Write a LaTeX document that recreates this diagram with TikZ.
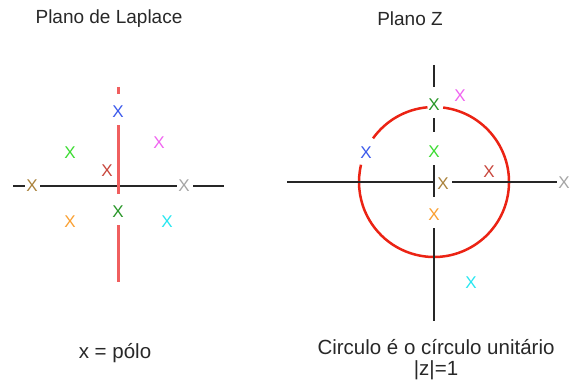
\documentclass[tikz,border=0pt]{standalone}
\usepackage{fontspec}
\setmainfont{Liberation Sans}
\usetikzlibrary{calc}
\definecolor{txt}{RGB}{40,40,40}
\definecolor{cblue}{RGB}{60,90,235}
\definecolor{cgreen}{RGB}{60,220,50}
\definecolor{cmag}{RGB}{240,100,240}
\definecolor{cred}{RGB}{200,70,60}
\definecolor{cbrown}{RGB}{170,130,60}
\definecolor{cgray}{RGB}{165,165,165}
\definecolor{corange}{RGB}{250,160,50}
\definecolor{cdgreen}{RGB}{40,150,40}
\definecolor{ccyan}{RGB}{40,230,240}
\definecolor{lred}{RGB}{240,95,95}
\definecolor{circred}{RGB}{235,35,20}
\tikzset{
  pole/.style={inner sep=0pt, font=\fontsize{17}{17}\selectfont},
  axis/.style={line width=2pt, black!85},
  raxis/.style={line width=2.3pt, lred},
  circ/.style={line width=2.5pt, circred},
  title/.style={txt, font=\fontsize{19}{23}\selectfont},
  note/.style={txt, font=\fontsize{20.5}{23}\selectfont, align=center},
}
\begin{document}
\begin{tikzpicture}[x=1pt,y=-1pt]
\useasboundingbox (0,0) rectangle (572,385);
% titles
\node[title] (t1) at (109,19) {Plano de Laplace};
\node[title] (t2) at (410,19) {Plano Z};
\node[note] (n1) at (115,353) {x = pólo};
\node[note, inner sep=0pt] (n2) at (436,360) {Circulo é o círculo unitário\\[-2pt]|z|=1};

% ---------- Laplace plane ----------
\coordinate (lh1) at (13,186);
\coordinate (lh2) at (25,186);
\coordinate (lh3) at (40,186);
\coordinate (lh4) at (177,186);
\coordinate (lh5) at (193,186);
\coordinate (lh6) at (224,186);
\draw[axis] (lh1) -- (lh2);
\draw[axis] (lh3) -- (lh4);
\draw[axis] (lh5) -- (lh6);
\coordinate (lv1) at (118.5,87);
\coordinate (lv2) at (118.5,94);
\coordinate (lv3) at (118.5,125);
\coordinate (lv4) at (118.5,194);
\coordinate (lv5) at (118.5,225);
\coordinate (lv6) at (118.5,282);
\draw[raxis] (lv1) -- (lv2);
\draw[raxis] (lv3) -- (lv4);
\draw[raxis] (lv5) -- (lv6);

\node[pole, cblue]   (lb)  at (118,112) {X};
\node[pole, cgreen]  (lg)  at (70,153) {X};
\node[pole, cmag]    (lm)  at (159,143) {X};
\node[pole, cred]    (lr)  at (107,171) {X};
\node[pole, cbrown]  (lbr) at (32,186) {X};
\node[pole, cgray]   (lgr) at (184,186) {X};
\node[pole, corange] (lo)  at (70,222) {X};
\node[pole, cdgreen] (ldg) at (118,212) {X};
\node[pole, ccyan]   (lc)  at (167,222) {X};

% ---------- Z plane ----------
\coordinate (zc) at (434,182);
% y axis is flipped, so angles are negated
\draw[circ] ($(zc)+(-83:75)$) arc[start angle=-83, end angle=193.3, radius=75];
\draw[circ] ($(zc)+(-95:75)$) arc[start angle=-95, end angle=-144.4, radius=75];

\coordinate (zh1) at (287,182);
\coordinate (zh2) at (434,182);
\coordinate (zh3) at (452,182);
\coordinate (zh4) at (557,182);
\draw[axis] (zh1) -- (zh2);
\draw[axis] (zh3) -- (zh4);
\coordinate (zv1) at (434,65);
\coordinate (zv2) at (434,87);
\coordinate (zv3) at (434,118);
\coordinate (zv4) at (434,132);
\coordinate (zv5) at (434,165);
\coordinate (zv6) at (434,197);
\coordinate (zv7) at (434,228);
\coordinate (zv8) at (434,321);
\draw[axis] (zv1) -- (zv2);
\draw[axis] (zv3) -- (zv4);
\draw[axis] (zv5) -- (zv6);
\draw[axis] (zv7) -- (zv8);

\node[pole, cdgreen] (zdg) at (434,105) {X};
\node[pole, cmag]    (zm)  at (460,96) {X};
\node[pole, cblue]   (zb)  at (366,153) {X};
\node[pole, cgreen]  (zg)  at (434,152) {X};
\node[pole, cred]    (zr)  at (489,172) {X};
\node[pole, cbrown]  (zbr) at (443,184) {X};
\node[pole, corange] (zo)  at (434,215) {X};
\node[pole, ccyan]   (zcy) at (471,283) {X};
\node[pole, cgray]   (zgr) at (564,183) {X};
\end{tikzpicture}
\end{document}
